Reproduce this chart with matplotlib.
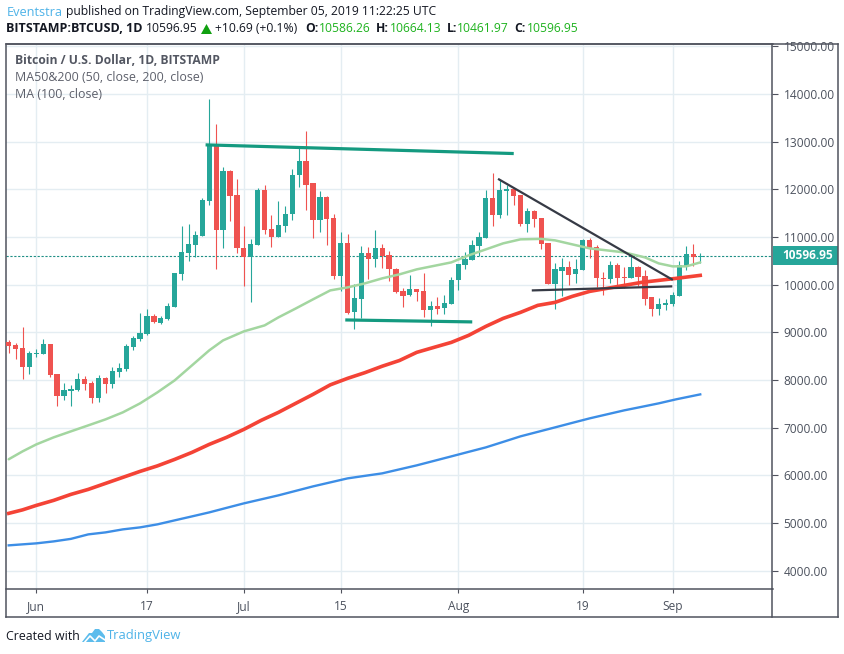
import numpy as np
import pandas as pd
import matplotlib
matplotlib.use("Agg")
import matplotlib.pyplot as plt
import matplotlib.dates as mdates
from matplotlib.patches import Polygon, Rectangle

plt.rcParams["font.family"] = ["Open Sans", "DejaVu Sans"]

W, H = 845, 654

# ── Data ──────────────────────────────────────────────────────────────────────

first_day = "2019-05-28"
opens = [8790, 8727, 8665, 8266, 8539, 8539, 8748, 8119, 7658, 7763, 7784, 8015, 7931, 7616, 8036, 7910, 8161,
         8224, 8685, 8853, 8958, 9335, 9189, 9272, 9524, 10216, 10656, 10824, 11012, 11746, 12920, 11138, 12375,
         11872, 10761, 10572, 10824, 11977, 11159, 10992, 11222, 11474, 12291, 12585, 12124, 11348, 11830, 11390,
         10174, 10866, 9419, 9692, 10656, 10530, 10761, 10614, 10321, 9859, 9776, 9901, 9859, 9461, 9545, 9503,
         9587, 10090, 10405, 10509, 10803, 10971, 11809, 11453, 11956, 11998, 11872, 11264, 11537, 11390, 10866,
         10006, 10279, 10363, 10216, 10300, 10929, 10782, 10132, 10111, 10405, 10153, 10132, 10363, 10174, 9734,
         9482, 9566, 9587, 9755, 10384, 10635, 10586]
highs = [8832, 8769, 9105, 8602, 8644, 8853, 8748, 8119, 7931, 7889, 8140, 8077, 7973, 8098, 8057, 8266, 8350,
         8748, 8916, 9398, 9482, 9377, 9335, 9608, 10237, 11222, 11264, 11117, 11809, 13885, 13360, 12459, 12396,
         12207, 11222, 10950, 12019, 12082, 11453, 11746, 11641, 12417, 12857, 13214, 12124, 11956, 11851, 11474,
         11096, 11054, 10006, 10803, 10782, 11138, 10845, 10698, 10342, 9922, 10195, 9901, 10237, 9650, 9734, 9776,
         10153, 10425, 10677, 10929, 11096, 11977, 12333, 12186, 12082, 11998, 11872, 11599, 11557, 11390, 10866,
         10446, 10551, 10488, 10530, 10950, 10971, 10824, 10258, 10488, 10446, 10363, 10614, 10384, 10300, 9734,
         9713, 9692, 9838, 10488, 10803, 10845, 10664]
lows = [8560, 8434, 8015, 8119, 8476, 8539, 8057, 7449, 7574, 7449, 7763, 7784, 7511, 7532, 7721, 7826, 8057,
        8182, 8623, 8811, 8937, 9189, 9167, 9251, 9524, 10090, 10488, 10572, 11012, 11662, 10321, 10761, 11327,
        10656, 9964, 9629, 10824, 11054, 10782, 10992, 11096, 11348, 12040, 11557, 10971, 11096, 10824, 10111,
        9859, 9377, 9063, 9293, 10111, 10363, 10342, 10069, 9817, 9524, 9755, 9650, 9314, 9126, 9377, 9377,
        9587, 9880, 10321, 10509, 10593, 10971, 11222, 11390, 11453, 11662, 11222, 11096, 11201, 10740, 10006,
        9482, 9755, 9985, 10027, 10300, 10551, 9943, 9776, 10027, 9985, 9922, 10132, 9964, 9566, 9335,
        9356, 9461, 9545, 9755, 10300, 10384, 10462]
closes = [8706, 8644, 8266, 8560, 8560, 8748, 8098, 7658, 7784, 7805, 8015, 7910, 7616, 8036, 7910, 8182, 8245,
          8706, 8874, 8979, 9335, 9210, 9293, 9545, 10237, 10677, 10845, 11033, 11767, 12941, 11138, 12375, 11851,
          10761, 10572, 10845, 11977, 11138, 10992, 11243, 11474, 12291, 12585, 12082, 11348, 11830, 11369, 10174,
          10866, 9398, 9713, 10656, 10530, 10761, 10593, 10321, 9838, 9755, 9901, 9838, 9461, 9545, 9482, 9608,
          10090, 10425, 10530, 10824, 10992, 11809, 11453, 11977, 11998, 11851, 11264, 11537, 11369, 10845, 10006,
          10321, 10363, 10195, 10321, 10929, 10761, 10132, 10111, 10405, 10132, 10132, 10363, 10153, 9692, 9482,
          9587, 9608, 9776, 10405, 10635, 10586, 10597]

# moving averages, sampled by day offset from first_day
ma50_days = [0, 2, 4, 6.5, 9, 11.5, 14, 16.5, 19, 21.5, 24, 26.5, 29, 31, 34, 37, 39, 41.5, 44, 46.5, 49, 51.5,
             54, 56.5, 59, 61.5, 64, 66.5, 69, 71.5, 74, 77, 79, 84, 89, 92, 94, 96, 98, 100]
ma50_vals = [6340, 6505, 6652, 6799, 6925, 7050, 7176, 7323, 7512, 7742, 7994, 8308, 8623, 8832, 9021, 9146, 9314,
             9500, 9692, 9880, 9943, 10027, 10132, 10216, 10321, 10394, 10467, 10614, 10740, 10866, 10950, 10960,
             10929, 10761, 10677, 10572, 10446, 10384, 10384, 10467]
ma100_days = [0, 2, 4, 6.5, 9, 11.5, 14, 16.5, 19, 21.5, 24, 26.5, 29, 31.5, 34, 36.5, 39, 41.5, 44, 46.5, 49, 51.5,
              54, 56.5, 59, 61.5, 64, 66.5, 69, 71.5, 74, 76.5, 79, 81.5, 84, 86.5, 89, 91.5, 94, 96.5, 100]
ma100_vals = [5206, 5279, 5373, 5478, 5604, 5708, 5834, 5960, 6086, 6201, 6337, 6484, 6652, 6799, 6966, 7155, 7323,
              7512, 7700, 7900, 8036, 8155, 8290, 8410, 8581, 8686, 8790, 8937, 9126, 9293, 9419, 9566, 9629, 9755,
              9859, 9922, 9985, 10048, 10090, 10132, 10195]
ma200_days = [0, 4, 6.5, 9, 11.5, 14, 16.5, 19, 21.5, 24, 26.5, 29, 31.5, 34, 36.5, 39, 41.5, 44, 46.5, 49, 51.5,
              54, 56.5, 59, 61.5, 64, 66.5, 69, 71.5, 74, 76.5, 79, 81.5, 84, 86.5, 89, 91.5, 94, 96.5, 100]
ma200_vals = [4535, 4577, 4618, 4671, 4765, 4807, 4870, 4912, 4975, 5059, 5142, 5226, 5321, 5415, 5499, 5583, 5677,
              5771, 5855, 5939, 5992, 6044, 6128, 6212, 6306, 6400, 6495, 6589, 6704, 6820, 6914, 7008, 7103, 7197,
              7281, 7365, 7438, 7512, 7596, 7700]

# hand-drawn trend lines: (day offset, price) pairs
teal_lines = [([28.7, 72.8], [12930, 12750]), ([48.9, 66.8], [9260, 9220])]
dark_lines = [([70.9, 95.9], [12207, 10111]), ([75.8, 95.8], [9880, 9964])]

price_ticks = [4000, 5000, 6000, 7000, 8000, 9000, 10000, 11000, 12000, 13000, 14000, 15000]
date_ticks = ["2019-06-01", "2019-06-17", "2019-07-01", "2019-07-15", "2019-08-01", "2019-08-19", "2019-09-01"]
date_labels = ["Jun", "17", "Jul", "15", "Aug", "19", "Sep"]
last_price = 10596.95

GREEN = "#26a69a"
RED = "#ef5350"
FRAME = "#50535e"
GRID = "#e4edf2"
LABEL = "#4c525e"
BLUE_TEXT = "#4eb3e8"

# ── Layout helpers ────────────────────────────────────────────────────────────

def fx(x):
    return x / W

def fy(y):
    return 1 - y / H

def label(x, y, s, **kw):
    kw.setdefault("fontsize", 8.73)
    kw.setdefault("color", "#131722")
    kw.setdefault("va", "center")
    return fig.text(fx(x), fy(y), s, **kw)

fig = plt.figure(figsize=(W / 100, H / 100), dpi=100)
ax = fig.add_axes([fx(6.5), fy(589), fx(772.5) - fx(6.5), fy(43.5) - fy(589)])

# ── Chart ─────────────────────────────────────────────────────────────────────

dates = pd.date_range(first_day, periods=len(opens))
xs = mdates.date2num(dates)
x0 = xs[0]

for x, o, h, l, c in zip(xs, opens, highs, lows, closes):
    col = GREEN if c >= o else RED
    ax.vlines(x, l, h, color=col, lw=0.8, zorder=3)
    ax.add_patch(Rectangle((x - 0.38, min(o, c)), 0.76, max(abs(c - o), 25), color=col, lw=0, zorder=3))

ax.plot(x0 + np.array(ma50_days), ma50_vals, color="#a3d6a0", lw=1.8, zorder=4, solid_capstyle="round")
ax.plot(x0 + np.array(ma100_days), ma100_vals, color="#f44336", lw=2.6, zorder=4)
ax.plot(x0 + np.array(ma200_days), ma200_vals, color="#3d8ee6", lw=1.7, zorder=4)

for dx, vy in teal_lines:
    ax.plot(x0 + np.array(dx), vy, color="#149a80", lw=2.3, zorder=5)
for dx, vy in dark_lines:
    ax.plot(x0 + np.array(dx), vy, color="#363a45", lw=1.6, zorder=5)

ax.axhline(last_price, color="#1f8f85", lw=0.8, ls=(0, (2, 1.5)), zorder=2)

# limits worked out from gridline pixel positions
ax.set_xlim(x0 - 0.32, x0 + 110.45)
ax.set_ylim(3620, 15056)

ax.yaxis.tick_right()
ax.set_yticks(price_ticks)
ax.set_yticklabels([f"{p:.2f}" for p in price_ticks], va="center_baseline")
ax.set_xticks(mdates.date2num(pd.to_datetime(date_ticks)))
ax.set_xticklabels(date_labels)
ax.tick_params(axis="y", length=4, width=0.8, color=FRAME, labelcolor=LABEL, labelsize=8.6, pad=4)
ax.tick_params(axis="x", length=3, width=0.8, color=FRAME, labelcolor=LABEL, labelsize=8.6, pad=5)
ax.grid(True, color=GRID, lw=1)
ax.set_axisbelow(True)
for s in ax.spines.values():
    s.set_color(FRAME)
    s.set_linewidth(1.1)

# outer frame for the scale columns
for xa, ya, xb, yb in [(6.5, 43.5, 838, 43.5), (838, 43.5, 838, 617), (6.5, 617, 838, 617),
                       (6.5, 589, 6.5, 617), (772.5, 589, 772.5, 617)]:
    fig.add_artist(plt.Line2D([fx(xa), fx(xb)], [fy(ya), fy(yb)], color=FRAME, lw=1.1))

# last price tag
fig.add_artist(Rectangle((fx(773), fy(264.5)), fx(65), fy(246) - fy(264.5), color=GREEN, lw=0,
                         transform=fig.transFigure))
label(782, 255.3, "10596.95", color="white", fontsize=8.6, fontweight="bold")

# ── Text ──────────────────────────────────────────────────────────────────────

label(6.5, 12, "Eventstra", color=BLUE_TEXT, fontsize=9.2)
label(66.5, 12, "published on TradingView.com, September 05, 2019 11:22:25 UTC")
label(6.5, 29, "BITSTAMP:BTCUSD, 1D", fontweight="bold", fontsize=9.0)
label(146, 29, "10596.95")
fig.add_artist(Polygon([(fx(201), fy(34)), (fx(212), fy(34)), (fx(206.5), fy(24))], color="#10a010", lw=0,
                       transform=fig.transFigure))
label(215, 29, "+10.69 (+0.1%)")
for xa, xb, name, val in [(305, 319, "O:", "10586.26"), (376, 390, "H:", "10664.13"),
                          (447, 457, "L:", "10461.97"), (514, 527, "C:", "10596.95")]:
    label(xa, 29, name, fontweight="bold")
    label(xb, 29, val, color="#1db21d")

label(15.5, 60.5, "Bitcoin / U.S. Dollar, 1D, BITSTAMP", color="#535762", fontweight="bold", fontsize=8.7)
label(15.5, 77.5, "MA50&200 (50, close, 200, close)", color="#5d606b", fontsize=8.95)
label(15.5, 94.5, "MA (100, close)", color="#5d606b", fontsize=8.95)

# footer with the logo
label(6.5, 636, "Created with", fontsize=8.9)
cloud = [(82, 642), (89, 633), (92, 633), (95, 629), (99, 629), (102, 632), (105, 636), (105, 642)]
fig.add_artist(Polygon([(fx(a), fy(b)) for a, b in cloud], color="#5cbcec", lw=0, transform=fig.transFigure))
fig.add_artist(plt.Line2D([fx(a) for a in (84, 90, 95, 99, 105)], [fy(b) for b in (643, 636, 641, 636, 640)],
                          color="white", lw=1.2))
label(107, 636, "TradingView", color=BLUE_TEXT, fontsize=9.4)

fig.savefig("out.png", dpi=100)
